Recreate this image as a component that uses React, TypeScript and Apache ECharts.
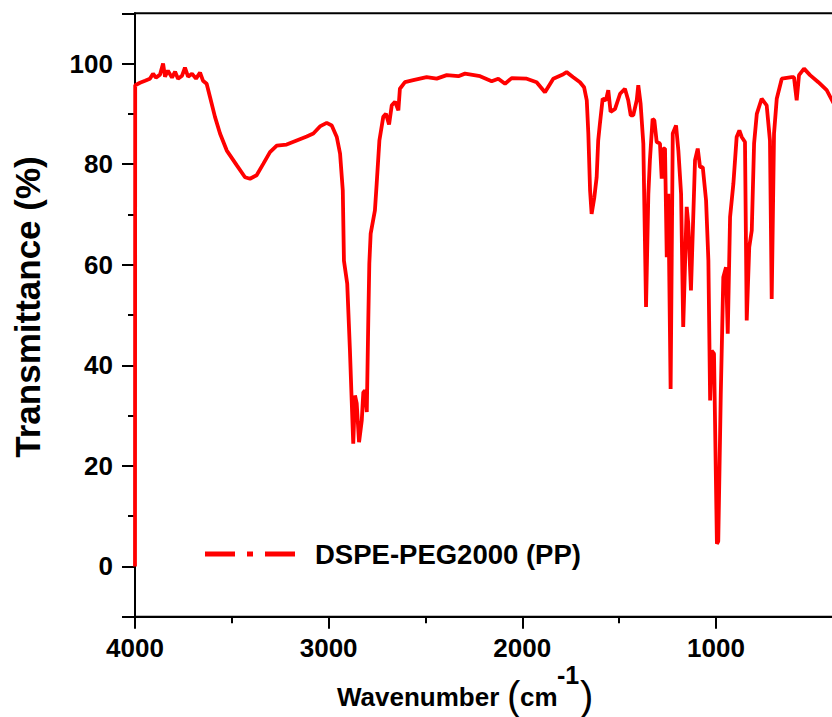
import React, { useEffect, useRef } from 'react';
import * as echarts from 'echarts';

const wavenumbers = [
  4000, 3999, 3974, 3948, 3923, 3907, 3892, 3871, 3855, 3845, 3830, 3809, 3793, 3778, 3757, 3742, 3726, 3706, 3685, 3664,
  3649, 3630, 3613, 3587, 3561, 3526, 3475, 3432, 3406, 3372, 3337, 3303, 3268, 3217, 3165, 3113, 3079, 3045, 3010, 2984,
  2958, 2941, 2927, 2921, 2904, 2890, 2881, 2873, 2864, 2855, 2843, 2829, 2821, 2812, 2803, 2795, 2790, 2783, 2761, 2752,
  2738, 2718, 2704, 2688, 2674, 2657, 2640, 2632, 2606, 2563, 2494, 2442, 2390, 2330, 2296, 2218, 2158, 2124, 2089, 2055,
  1977, 1926, 1883, 1840, 1788, 1771, 1737, 1702, 1681, 1667, 1659, 1650, 1642, 1628, 1616, 1608, 1599, 1585, 1568, 1556,
  1544, 1521, 1495, 1470, 1453, 1440, 1427, 1409, 1401, 1389, 1375, 1361, 1349, 1341, 1327, 1318, 1306, 1289, 1280, 1272,
  1263, 1254, 1246, 1234, 1223, 1206, 1194, 1180, 1169, 1151, 1143, 1129, 1108, 1094, 1082, 1068, 1051, 1039, 1030, 1022,
  1010, 995, 988, 975, 962, 948, 939, 927, 910, 893, 879, 867, 850, 841, 828, 815, 803, 789, 764, 738,
  721, 712, 700, 686, 660, 609, 597, 583, 571, 545, 514, 471, 428, 391,
];

const transmittance = [
  0, 95.7, 96.2, 96.6, 97.0, 98.0, 97.2, 97.8, 100.0, 97.4, 98.6, 97.2, 98.4, 97.0, 97.6, 99.2, 97.4, 98.0, 97.0, 98.2,
  96.6, 96.0, 93.4, 89.4, 86.1, 82.7, 79.8, 77.4, 77.1, 77.8, 80.1, 82.4, 83.7, 83.9, 84.7, 85.5, 86.1, 87.5, 88.2, 87.7,
  85.4, 82.1, 74.8, 60.8, 56.2, 42.9, 33.0, 24.4, 34.0, 32.4, 24.7, 29.0, 34.6, 35.0, 30.7, 49.6, 60.2, 66.2, 70.8, 76.1,
  84.7, 89.4, 90.0, 87.9, 91.7, 92.4, 90.7, 95.0, 96.3, 96.7, 97.3, 97.0, 97.7, 97.5, 98.0, 97.5, 96.5, 97.0, 96.0, 97.1,
  97.0, 96.3, 94.3, 97.0, 97.9, 98.3, 97.3, 96.3, 95.3, 92.7, 86.1, 74.8, 70.1, 73.4, 77.4, 84.7, 88.1, 93.0, 92.7, 94.7,
  90.4, 91.0, 94.0, 95.0, 92.7, 89.7, 89.7, 92.7, 95.7, 92.0, 84.1, 51.6, 74.1, 80.8, 89.0, 88.7, 84.4, 84.1, 77.1, 83.1,
  83.1, 61.5, 74.1, 35.3, 86.1, 87.7, 82.7, 74.1, 47.6, 71.5, 68.2, 54.9, 80.8, 83.1, 79.4, 79.4, 72.8, 60.8, 33.0, 42.9,
  42.3, 4.5, 5.0, 34.3, 57.5, 59.5, 46.3, 69.5, 76.1, 85.4, 86.7, 85.4, 84.4, 48.9, 63.5, 66.8, 84.1, 90.0, 93.0, 91.7,
  84.7, 53.2, 86.1, 93.0, 97.0, 97.3, 97.3, 92.7, 97.7, 99.0, 97.7, 96.3, 94.7, 92.0,
];

const xMajorLabels = [4000, 3000, 2000, 1000];
const yMajorLabels = [0, 20, 40, 60, 80, 100];
const seriesName = 'DSPE-PEG2000 (PP)';
const yTitle = 'Transmittance (%)';
const xTitleMain = 'Wavenumber';
const xTitleUnit = 'cm';
const xTitleExp = '-1';

const FONT = '"Liberation Sans", Arial, Helvetica, sans-serif';

export default function App() {
  const ref = useRef<HTMLDivElement>(null);

  useEffect(() => {
    if (!ref.current) return;
    const chart = echarts.init(ref.current, undefined, { renderer: 'svg' });
    const data = wavenumbers.map((w, i) => [w, transmittance[i]]);

    const option: any = {
      animation: false,
      backgroundColor: '#ffffff',
      grid: [
        {
          left: 135,
          width: 701,
          top: 13.3,
          bottom: 100.3,
          outerBoundsMode: 'none',
          containLabel: false,
          show: true,
          borderColor: '#000',
          borderWidth: 2,
          backgroundColor: 'transparent',
        },
        {
          left: 135,
          width: 580.94,
          top: 13.3,
          bottom: 100.3,
          outerBoundsMode: 'none',
          containLabel: false,
          show: false,
        },
      ],
      xAxis: [
        {
          type: 'value',
          gridIndex: 0,
          inverse: true,
          min: 380,
          max: 4000,
          minInterval: 1000,
          maxInterval: 1000,
          splitLine: { show: false },
          axisLine: { show: true, onZero: false, lineStyle: { color: '#000', width: 2 } },
          axisTick: { show: true, length: 12, lineStyle: { color: '#000', width: 2 } },
          axisLabel: {
            margin: 18,
            fontSize: 26,
            fontWeight: 'bold',
            fontFamily: FONT,
            color: '#000',
            formatter: (v: number) => (xMajorLabels.indexOf(v) >= 0 ? String(v) : ''),
          },
        },
        {
          type: 'value',
          gridIndex: 1,
          position: 'bottom',
          inverse: true,
          min: 1000,
          max: 4000,
          interval: 500,
          splitLine: { show: false },
          axisLine: { show: false, onZero: false },
          axisTick: { show: true, length: 6.5, lineStyle: { color: '#000', width: 2 } },
          axisLabel: { show: false },
        },
      ],
      yAxis: [
        {
          type: 'value',
          gridIndex: 0,
          min: -10,
          max: 110,
          minInterval: 20,
          maxInterval: 20,
          splitLine: { show: false },
          axisLine: { show: true, onZero: false, lineStyle: { color: '#000', width: 2 } },
          axisTick: { show: true, length: 13, lineStyle: { color: '#000', width: 2 } },
          minorTick: { show: true, splitNumber: 2, length: 7, lineStyle: { color: '#000', width: 2 } },
          minorSplitLine: { show: false },
          axisLabel: {
            margin: 22,
            fontSize: 26,
            fontWeight: 'bold',
            fontFamily: FONT,
            color: '#000',
            formatter: (v: number) => (yMajorLabels.indexOf(v) >= 0 ? String(v) : ''),
          },
        },
        {
          type: 'value',
          gridIndex: 1,
          min: -10,
          max: 110,
          show: false,
        },
      ],
      legend: {
        show: true,
        left: 205,
        top: 540,
        padding: 0,
        orient: 'horizontal',
        itemWidth: 90,
        itemHeight: 5,
        icon: 'path://M0,0h30v5h-30z M42,0h6v5h-6z M60,0h30v5h-30z',
        textStyle: {
          fontSize: 27.5,
          fontWeight: 'bold',
          fontFamily: FONT,
          color: '#000',
          padding: [0, 0, 0, 15],
        },
        data: [{ name: seriesName, itemStyle: { color: '#ff0000' } }],
      },
      series: [
        {
          name: seriesName,
          type: 'line',
          xAxisIndex: 0,
          yAxisIndex: 0,
          data,
          symbol: 'none',
          showSymbol: false,
          smooth: false,
          lineStyle: { color: '#ff0000', width: 3.8 },
          itemStyle: { color: '#ff0000' },
          z: 3,
        },
      ],
      graphic: [
        {
          type: 'text',
          x: 27,
          y: 307,
          rotation: Math.PI / 2,
          style: {
            text: yTitle,
            fontSize: 35,
            fontWeight: 'bold',
            fontFamily: FONT,
            fill: '#000',
            align: 'center',
            verticalAlign: 'middle',
          },
        },
        {
          type: 'text',
          x: 337,
          y: 697,
          style: {
            text: xTitleMain,
            fontSize: 26,
            fontWeight: 'bold',
            fontFamily: FONT,
            fill: '#000',
            align: 'left',
            verticalAlign: 'middle',
          },
        },
        {
          type: 'text',
          x: 507,
          y: 696,
          style: { text: '(', fontSize: 40, fontFamily: FONT, fill: '#000', align: 'left', verticalAlign: 'middle' },
        },
        {
          type: 'text',
          x: 520,
          y: 697,
          style: {
            text: xTitleUnit,
            fontSize: 26,
            fontWeight: 'bold',
            fontFamily: FONT,
            fill: '#000',
            align: 'left',
            verticalAlign: 'middle',
          },
        },
        {
          type: 'text',
          x: 557,
          y: 675,
          style: {
            text: xTitleExp,
            fontSize: 25,
            fontWeight: 'bold',
            fontFamily: FONT,
            fill: '#000',
            align: 'left',
            verticalAlign: 'middle',
          },
        },
        {
          type: 'text',
          x: 580,
          y: 696,
          style: { text: ')', fontSize: 40, fontFamily: FONT, fill: '#000', align: 'left', verticalAlign: 'middle' },
        },
      ],
    };

    chart.setOption(option);
    return () => {
      chart.dispose();
    };
  }, []);

  return (
    <div
      ref={ref}
      style={{ position: 'fixed', left: 0, top: 0, width: 832, height: 717, background: '#fff' }}
    />
  );
}
